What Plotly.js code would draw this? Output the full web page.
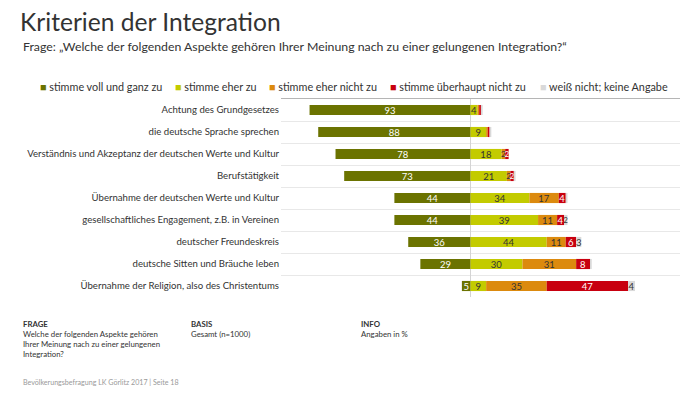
<!DOCTYPE html>
<html>
<head>
<meta charset="utf-8">
<script src="https://cdn.plot.ly/plotly-3.0.1.min.js"></script>
<style>html,body{margin:0;padding:0;background:#fff;}#chart{width:700px;height:394px;}</style>
</head>
<body>
<div id="chart"></div>
<script>
const categories = [
  "Achtung des Grundgesetzes",
  "die deutsche Sprache sprechen",
  "Verständnis und Akzeptanz der deutschen Werte und Kultur",
  "Berufstätigkeit",
  "Übernahme der deutschen Werte und Kultur",
  "gesellschaftliches Engagement, z.B. in Vereinen",
  "deutscher Freundeskreis",
  "deutsche Sitten und Bräuche leben",
  "Übernahme der Religion, also des Christentums"
];
const seriesNames = [
  "stimme voll und ganz zu",
  "stimme eher zu",
  "stimme eher nicht zu",
  "stimme überhaupt nicht zu",
  "weiß nicht; keine Angabe"
];
const fullAgree        = [93, 88, 78, 73, 44, 44, 36, 29, 5];
const ratherAgree      = [4, 9, 18, 21, 34, 39, 44, 30, 9];
const ratherDisagree   = [1, 1, 2, 2, 17, 11, 11, 31, 35];
const stronglyDisagree = [1, 1, 2, 2, 4, 4, 6, 8, 47];
const dontKnow         = [1, 1, 0, 1, 1, 2, 3, 1, 4];

const FONT = "Lato, 'Open Sans', sans-serif";
const colors = ["#6b7300", "#c3cb00", "#dc8a0e", "#c8000f", "#d9d9d9"];
const textColors = ["#ffffff", "#333333", "#333333", "#ffffff", "#333333"];
const allSeries = [fullAgree, ratherAgree, ratherDisagree, stronglyDisagree, dontKnow];

const traces = allSeries.map((vals, i) => ({
  type: "bar",
  orientation: "h",
  name: seriesNames[i],
  y: categories,
  x: i === 0 ? vals.map(v => -v) : vals,
  text: vals.map(v => v >= 2 ? String(v) : ""),
  textposition: "inside",
  insidetextanchor: "middle",
  textangle: 0,
  constraintext: "none",
  textfont: {family: FONT, size: vals.map(v => v <= 2 ? 8 : 9.5), color: textColors[i]},
  marker: {color: colors[i], line: {width: 0}},
  width: 0.46,
  hoverinfo: "skip",
  showlegend: false
}));

const W = 700, H = 394;
const px = x => x / W;
const py = y => 1 - y / H;

const legendX = [38, 173, 267, 388, 538];
const annotations = [];
seriesNames.forEach((n, i) => {
  annotations.push({
    xref: "paper", yref: "paper", x: px(legendX[i]), y: py(87),
    xanchor: "left", yanchor: "middle", showarrow: false,
    text: '<span style="color:' + colors[i] + '">■</span> ' + n,
    font: {family: FONT, size: 10.8, color: "#333"}
  });
});
annotations.push({
  xref: "paper", yref: "paper", x: px(21), y: py(47), xanchor: "left", yanchor: "middle", showarrow: false,
  text: "Frage: „Welche der folgenden Aspekte gehören Ihrer Meinung nach zu einer gelungenen Integration?“",
  font: {family: FONT, size: 12.3, color: "#333"}
});
const footBlocks = [
  {x: 21, head: "FRAGE", body: "Welche der folgenden Aspekte gehören<br>Ihrer Meinung nach zu einer gelungenen<br>Integration?"},
  {x: 189, head: "BASIS", body: "Gesamt (n=1000)"},
  {x: 359, head: "INFO", body: "Angaben in %"}
];
footBlocks.forEach(b => {
  annotations.push({
    xref: "paper", yref: "paper", x: px(b.x), y: py(317), xanchor: "left", yanchor: "top", showarrow: false, align: "left",
    text: "<b>" + b.head + "</b><br>" + b.body,
    font: {family: FONT, size: 7.8, color: "#333"}
  });
});
annotations.push({
  xref: "paper", yref: "paper", x: px(21), y: py(382), xanchor: "left", yanchor: "middle", showarrow: false,
  text: "Bevölkerungsbefragung LK Görlitz 2017 | Seite 18",
  font: {family: FONT, size: 7.1, color: "#999"}
});

const layout = {
  width: W, height: H,
  margin: {l: 0, r: 0, t: 0, b: 0, pad: 0},
  paper_bgcolor: "#fff", plot_bgcolor: "#fff",
  barmode: "relative",
  bargap: 0.5,
  showlegend: false,
  title: {
    text: "Kriterien der Integration",
    x: px(20), xanchor: "left", y: py(22), yanchor: "middle",
    font: {family: FONT, size: 24.6, color: "#333"}
  },
  xaxis: {
    domain: [px(281), px(680)],
    range: [-109.5, 121],
    side: "top",
    showticklabels: false,
    ticks: "",
    showgrid: false,
    zeroline: true, zerolinecolor: "#d4d4d4", zerolinewidth: 1,
    showline: true, linecolor: "#b5b5b5", linewidth: 1.5,
    fixedrange: true
  },
  yaxis: {
    domain: [py(297), py(99)],
    type: "category",
    autorange: "reversed",
    tickson: "boundaries",
    showgrid: true, gridcolor: "#e8e8e8", gridwidth: 1,
    ticks: "", ticklen: 0,
    ticklabelstandoff: 1,
    tickfont: {family: FONT, size: 9.6, color: "#333"},
    showline: false, zeroline: false,
    automargin: false,
    fixedrange: true
  },
  annotations: annotations
};

Plotly.newPlot("chart", traces, layout, {displayModeBar: false, staticPlot: true});
</script>
</body>
</html>
